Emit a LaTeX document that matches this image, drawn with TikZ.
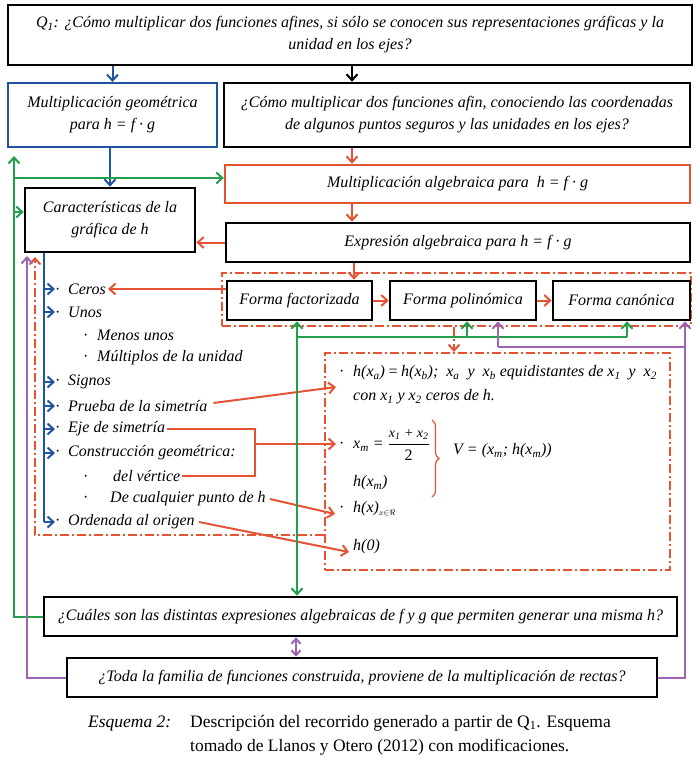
\documentclass[tikz,border=0pt]{standalone}
\usepackage{fontspec}
\setmainfont{Liberation Serif}
\usetikzlibrary{arrows.meta,decorations.pathreplacing}
\definecolor{cblue}{RGB}{31,85,160}
\definecolor{cred}{RGB}{228,84,52}
\definecolor{cgreen}{RGB}{35,160,75}
\definecolor{cpurple}{RGB}{160,100,180}
\newcommand{\bu}[1][13pt]{\makebox[#1][l]{\upshape ·}}
\newcommand{\sbs}[1]{\textsubscript{#1}}
\begin{document}
\begin{tikzpicture}[x=1pt,y=-1pt,
  every node/.style={inner sep=0pt, font=\fontsize{16}{22}\selectfont\itshape},
  bbox/.style={draw=black, line width=2.6pt, align=center},
  bluebox/.style={draw=cblue, line width=2pt, align=center},
  redbox/.style={draw=cred, line width=2.4pt, align=center},
  ddbox/.style={draw=cred, line width=2pt, dash pattern=on 9pt off 3pt on 2pt off 3pt},
  litem/.style={anchor=west},
  tipend/.style={-{Straight Barb[length=6pt,width=11pt]}},
  tipboth/.style={{Straight Barb[length=5pt,width=9pt]}-{Straight Barb[length=5pt,width=9pt]}},
  bline/.style={draw=cblue, line width=2.6pt},
  barr/.style={draw=cblue, line width=2pt, tipend},
  rline/.style={draw=cred, line width=2pt},
  rarr/.style={rline, tipend},
  rdd/.style={draw=cred, line width=2pt, dash pattern=on 9pt off 3pt on 2pt off 3pt},
  garr/.style={draw=cgreen, line width=2pt, tipend},
  gline/.style={draw=cgreen, line width=2pt},
  parr/.style={draw=cpurple, line width=2pt, tipend},
  pline/.style={draw=cpurple, line width=2pt},
  kline/.style={draw=black, line width=2pt, tipend},
  capfont/.style={font=\fontsize{17.5}{24}\selectfont}
]
\useasboundingbox (0,0) rectangle (698,770);

% boxes
\node[bbox, minimum width=684, minimum height=60] (q1) at (350,35) {Q\sbs{1}: ¿Cómo multiplicar dos funciones afines, si sólo se conocen sus representaciones gráficas y la\\unidad en los ejes?};
\node[bluebox, minimum width=209, minimum height=64] (mg) at (112.5,115) {Multiplicación geométrica\\para h = f · g};
\node[bbox, minimum width=466, minimum height=64] (q2) at (457,115) {¿Cómo multiplicar dos funciones afin, conociendo las coordenadas\\de algunos puntos seguros y las unidades en los ejes?};
\node[redbox, minimum width=465, minimum height=38] (ma) at (457.5,184) {Multiplicación algebraica para\ \ h = f · g};
\node[bbox, minimum width=464, minimum height=39] (ea) at (458,242.5) {Expresión algebraica para h = f · g};
\node[bbox, minimum width=170, minimum height=64] (car) at (110,220) {Características de la\\gráfica de h};
\node[ddbox, minimum width=469, minimum height=53] (dd1) at (456.5,299.5) {};
\node[bbox, minimum width=145, minimum height=39] (ff) at (299.5,300.5) {Forma factorizada};
\node[bbox, minimum width=146, minimum height=39] (fp) at (463,300.5) {Forma polinómica};
\node[bbox, minimum width=137, minimum height=39] (fc) at (621.5,300.5) {Forma canónica};
\node[ddbox, minimum width=345, minimum height=217] (dd2) at (497.5,461.5) {};
\node[bbox, minimum width=633, minimum height=39] (cu) at (360.5,616.5) {¿Cuáles son las distintas expresiones algebraicas de f y g que permiten generar una misma h?};
\node[bbox, minimum width=590, minimum height=39] (to) at (362,677.5) {¿Toda la familia de funciones construida, proviene de la multiplicación de rectas?};

% left list
\node[litem] (lceros) at (55,289) {\bu Ceros};
\node[litem] (lunos) at (55,312) {\bu Unos};
\node[litem] (lmenos) at (83,335) {\bu[14pt]Menos unos};
\node[litem] (lmult) at (83,358) {\bu[14pt]Múltiplos de la unidad};
\node[litem] (lsignos) at (55,382) {\bu Signos};
\node[litem] (lprueba) at (55,406) {\bu Prueba de la simetría};
\node[litem] (leje) at (55,429) {\bu Eje de simetría};
\node[litem] (lcons) at (55,453) {\bu Construcción geométrica:};
\node[litem] (lvert) at (83,476) {\bu[30pt]del vértice};
\node[litem] (ldecual) at (83,499) {\bu[27pt]De cualquier punto de h};
\node[litem] (lord) at (55,522) {\bu Ordenada al origen};

% right content
\node[litem] (r1) at (339,373) {\bu[14pt]h(x\sbs{a})\,=\,h(x\sbs{b});\ \ x\sbs{a}\ \ y\ \ x\sbs{b}\ equidistantes de\ x\sbs{1}\ \ y\ \ x\sbs{2}};
\node[litem] (r1b) at (353,397) {con x\sbs{1} y x\sbs{2} ceros de h.};
\node[litem] (r2) at (339,445) {\bu[14pt]x\sbs{m}\ =\ $\displaystyle\frac{\mbox{\fontsize{14}{16}\selectfont\itshape x\sbs{1} + x\sbs{2}}}{\mbox{\upshape 2}}$};
\node[litem] (rV) at (453,451) {V = (x\sbs{m}; h(x\sbs{m}))};
\node[litem] (r3) at (353,483) {h(x\sbs{m})};
\node[litem] (r4) at (339,509) {\bu[14pt]h(x)\textsubscript{$\scriptstyle x{\in}\Re$}};
\node[litem] (r5) at (353,547) {h(0)};
\draw[cred, line width=1.2pt, decorate, decoration={brace, amplitude=7pt}] (432,420) -- (432,497);

\coordinate (t1) at (336,387);
\coordinate (t2) at (336,444);
\coordinate (t3) at (335,514);
\coordinate (t4) at (349,552);

% caption
\node[capfont, anchor=base west] (cap1) at (88,727) {\itshape Esquema 2:};
\node[capfont, anchor=base west] (cap2) at (190,727) {\upshape Descripción del recorrido generado a partir de Q\sbs{1}. Esquema};
\node[capfont, anchor=base west] (cap3) at (190,751) {\upshape tomado de Llanos y Otero (2012) con modificaciones.};

% top connectors
\draw[barr] (q1.south -| mg.north) -- (mg.north);
\draw[kline] (q1.south -| 352,0) -- (352,0 |- q2.north);
\draw[rarr] (q2.south -| 352,0) -- (352,0 |- ma.north);
\draw[rarr] (ma.south -| 352,0) -- (352,0 |- ea.north);
\draw[rarr] (ea.west) -- (car.east |- ea.west);
\draw[barr] (mg.south -| 110,0) -- (110,0 |- car.north);

% blue list spine
\draw[bline] (car.south -| 44,0) -- (44,0 |- lord.west);
\foreach \n in {lceros,lunos,lsignos,lprueba,leje,lcons,lord}
  \draw[barr] (44,0 |- \n.west) -- (\n.west);

% red forms
\draw[rarr] (ea.south -| 354,0) -- (354,0 |- ff.north);
\draw[rarr] (ff.east) -- (fp.west);
\draw[rarr] (fp.east) -- (fc.west);
\draw[rarr] (ff.west |- lceros.east) -- ([xshift=2pt]lceros.east);
\draw[rdd, tipend] (454,0 |- dd1.south) -- (454,0 |- dd2.north);
\draw[rdd, tipend] (dd2.west |- 0,535) -| (35,257);

% red list to right box
\draw[rarr] ([xshift=6pt,yshift=3pt]lprueba.east) -- (t1);
\draw[rline] ([xshift=2pt]leje.east) -| (255,0 |- lvert.east) -- ([xshift=2pt]lvert.east);
\draw[rarr] (255,0 |- t2) -- (t2);
\draw[rarr] ([xshift=4pt]ldecual.east) -- (t3);
\draw[rarr] ([xshift=4pt]lord.east) -- (t4);

% green
\draw[garr] (cu.west) -| (14,156);
\draw[garr] (14,178) -- (ma.west |- 14,178);
\draw[garr] (14,212) -- (car.west |- 14,212);
\draw[gline] (297,337) -- (627,337);
\draw[garr] (297,337) -- (297,0 |- ff.south);
\draw[garr] (297,337) -- (297,0 |- cu.north);
\draw[garr] (467,337) -- (467,0 |- fp.south);
\draw[garr] (627,337) -- (627,0 |- fc.south);

% purple
\draw[parr] (to.west) -| (27,256);
\draw[parr] (to.east) -| (685,0 |- fc.south);
\draw[pline] (685,347) -- (498,347);
\draw[parr] (498,347) -- (498,0 |- fp.south);
\draw[pline, tipboth] (296,0 |- cu.south) -- (296,0 |- to.north);
\end{tikzpicture}
\end{document}
